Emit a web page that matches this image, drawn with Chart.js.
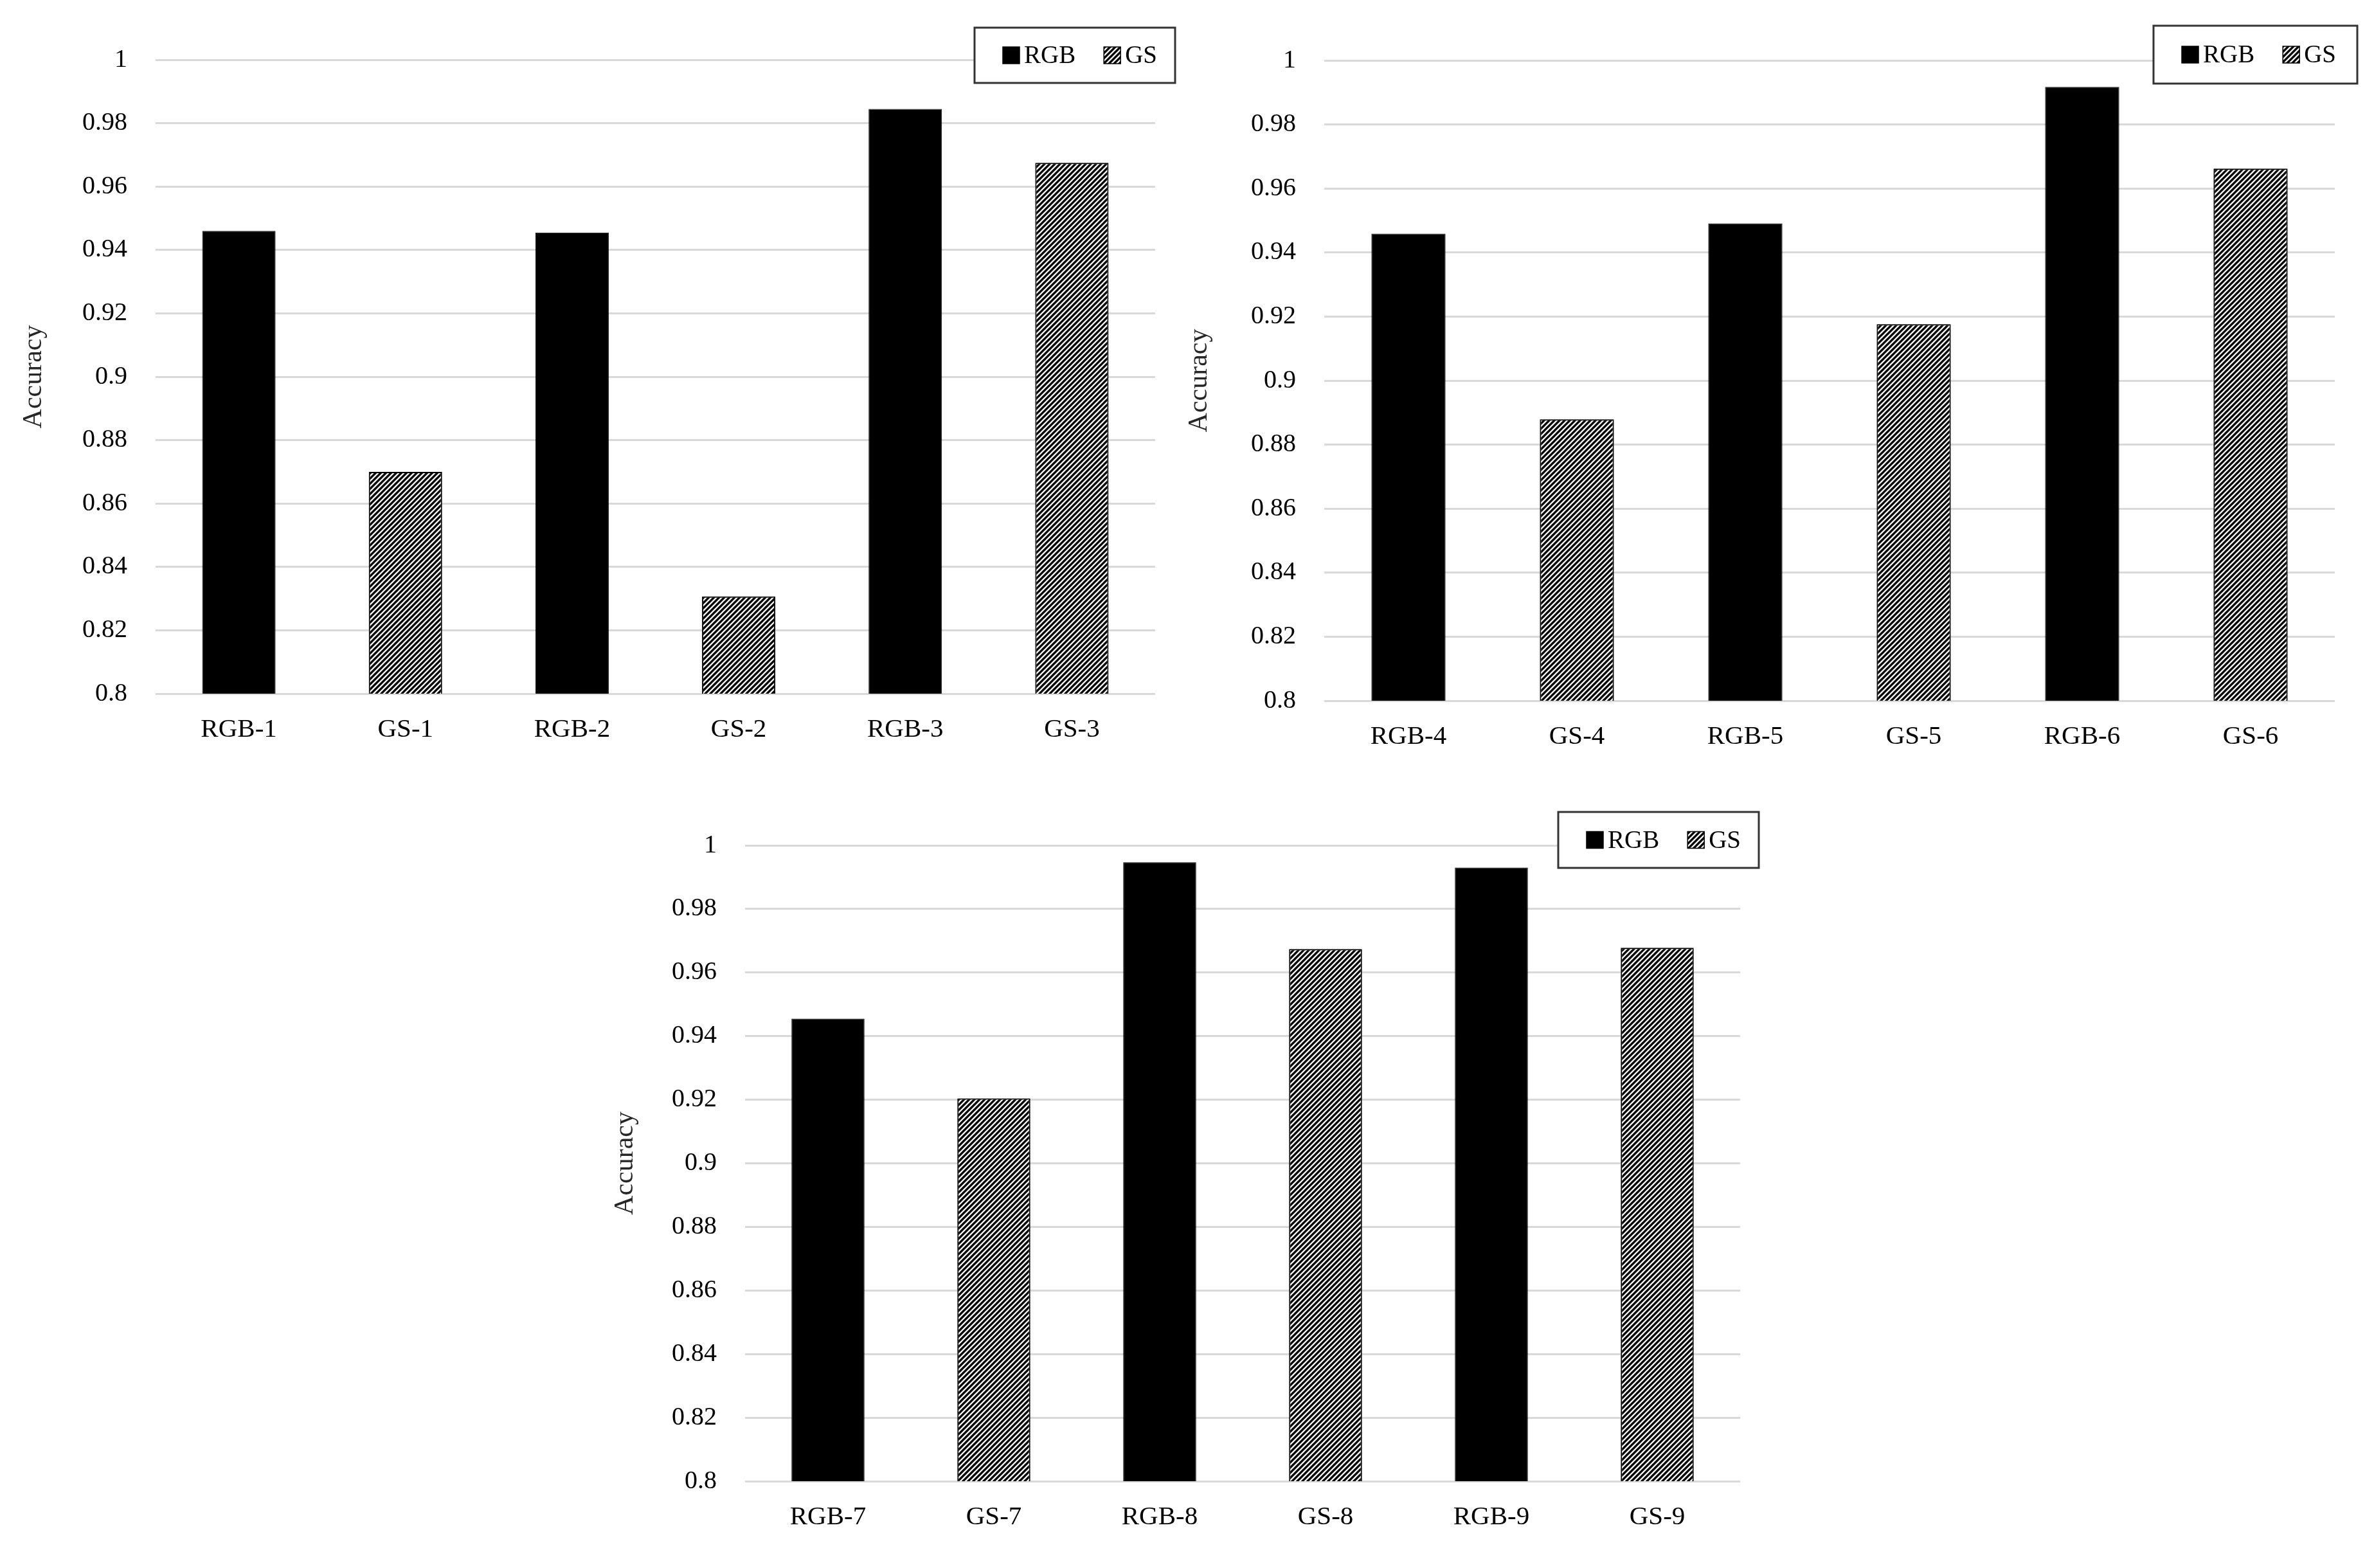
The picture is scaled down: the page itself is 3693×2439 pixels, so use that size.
<!DOCTYPE html>
<html><head><meta charset="utf-8">
<script src="https://cdn.jsdelivr.net/npm/chart.js@4.4.1/dist/chart.umd.min.js"></script>
<style>
html,body{margin:0;padding:0;background:#fff;}
body{width:3693px;height:2439px;position:relative;overflow:hidden;}
canvas{position:absolute;}
</style></head><body>
<canvas id="c1"></canvas><canvas id="c2"></canvas><canvas id="c3"></canvas>
<script>
// ---- data ----
const seriesNames = ['RGB', 'GS'];
const yAxisTitle = 'Accuracy';
const yTickValues = [0.8, 0.82, 0.84, 0.86, 0.88, 0.9, 0.92, 0.94, 0.96, 0.98, 1];

const categories1 = ['RGB-1', 'GS-1', 'RGB-2', 'GS-2', 'RGB-3', 'GS-3'];
const rgbValues1 = [0.946, 0.9455, 0.9845];
const gsValues1 = [0.870, 0.8307, 0.9675];

const categories2 = ['RGB-4', 'GS-4', 'RGB-5', 'GS-5', 'RGB-6', 'GS-6'];
const rgbValues2 = [0.9459, 0.9491, 0.9917];
const gsValues2 = [0.8879, 0.9176, 0.9662];

const categories3 = ['RGB-7', 'GS-7', 'RGB-8', 'GS-8', 'RGB-9', 'GS-9'];
const rgbValues3 = [0.9455, 0.9947, 0.9930];
const gsValues3 = [0.9204, 0.9674, 0.9678];

// ---- layout (pixels) ----
const panels = [
  {id: 'c1', cats: categories1, rgb: rgbValues1, gs: gsValues1,
   canvas: {left: 0, top: 0, w: 1840, h: 1230},
   area: {L: 242, T: 93, R: 1797, B: 1079}, titleX: 53,
   legend: {x: 1516, y: 43, w: 312, h: 86}},
  {id: 'c2', cats: categories2, rgb: rgbValues2, gs: gsValues2,
   canvas: {left: 1840, top: 0, w: 1853, h: 1230},
   area: {L: 220, T: 94, R: 1792, B: 1090}, titleX: 26,
   legend: {x: 1510, y: 40, w: 317, h: 90}},
  {id: 'c3', cats: categories3, rgb: rgbValues3, gs: gsValues3,
   canvas: {left: 900, top: 1230, w: 1900, h: 1209},
   area: {L: 259, T: 85, R: 1807, B: 1074}, titleX: 73,
   legend: {x: 1524, y: 33, w: 312, h: 87}}
];

const SERIF = '"Liberation Serif", "DejaVu Serif", serif';

function makeHatch(ctx) {
  const s = 8;
  const c = document.createElement('canvas');
  c.width = s; c.height = s;
  const g = c.getContext('2d');
  g.fillStyle = '#f4f4f4'; g.fillRect(0, 0, s, s);
  g.strokeStyle = '#000000'; g.lineWidth = 3.3;
  g.beginPath();
  g.moveTo(0, s); g.lineTo(s, 0);
  g.moveTo(-s / 2, s / 2); g.lineTo(s / 2, -s / 2);
  g.moveTo(s / 2, s * 1.5); g.lineTo(s * 1.5, s / 2);
  g.stroke();
  return ctx.createPattern(c, 'repeat');
}

const boxLegend = {
  id: 'boxLegend',
  afterDraw(chart, args, opts) {
    const ctx = chart.ctx;
    const {x, y, w, h} = opts;
    ctx.save();
    ctx.fillStyle = '#ffffff';
    ctx.fillRect(x, y, w, h);
    ctx.lineWidth = 3;
    ctx.strokeStyle = '#333333';
    ctx.strokeRect(x, y, w, h);
    const sw = 26;
    const cy = y + h / 2;
    let sx = x + 44;
    ctx.font = '39px ' + SERIF;
    ctx.textAlign = 'left';
    ctx.textBaseline = 'alphabetic';
    chart.data.datasets.forEach((d) => {
      ctx.fillStyle = d.backgroundColor;
      ctx.fillRect(sx, cy - sw / 2, sw, sw);
      ctx.lineWidth = 1.5;
      ctx.strokeStyle = '#000';
      ctx.strokeRect(sx, cy - sw / 2, sw, sw);
      ctx.fillStyle = '#000';
      ctx.fillText(d.label, sx + sw + 7, cy + 12);
      sx += sw + 7 + ctx.measureText(d.label).width + 44;
    });
    ctx.restore();
  }
};

function spread(values, offset, n) {
  const out = new Array(n).fill(null);
  values.forEach((v, i) => { out[i * 2 + offset] = v; });
  return out;
}

panels.forEach(p => {
  const cv = document.getElementById(p.id);
  cv.width = p.canvas.w; cv.height = p.canvas.h;
  cv.style.left = p.canvas.left + 'px'; cv.style.top = p.canvas.top + 'px';
  cv.style.width = p.canvas.w + 'px'; cv.style.height = p.canvas.h + 'px';
  const ctx = cv.getContext('2d');
  const hatch = makeHatch(ctx);
  const n = p.cats.length;
  const titleSize = 42;
  new Chart(ctx, {
    type: 'bar',
    data: {
      labels: p.cats,
      datasets: [
        {label: seriesNames[0], data: spread(p.rgb, 0, n), backgroundColor: '#000000',
         borderColor: '#000000', borderWidth: 1, grouped: false,
         barPercentage: 0.44, categoryPercentage: 1},
        {label: seriesNames[1], data: spread(p.gs, 1, n), backgroundColor: hatch,
         borderColor: '#000000', borderWidth: 2, grouped: false,
         barPercentage: 0.44, categoryPercentage: 1}
      ]
    },
    options: {
      responsive: false,
      maintainAspectRatio: false,
      animation: false,
      devicePixelRatio: 1,
      layout: {padding: {top: p.area.T, right: p.canvas.w - p.area.R, left: 0, bottom: 0}},
      plugins: {
        legend: {display: false},
        tooltip: {enabled: false},
        boxLegend: p.legend
      },
      scales: {
        x: {
          grid: {display: false, drawTicks: false},
          border: {display: false},
          ticks: {font: {family: SERIF, size: 41}, color: '#000', padding: 32,
                  maxRotation: 0, autoSkip: false},
          afterFit: s => { s.height = p.canvas.h - p.area.B; }
        },
        y: {
          min: 0.8, max: 1,
          grid: {color: '#d9d9d9', lineWidth: 3, drawTicks: false},
          border: {display: false},
          afterBuildTicks: s => { s.ticks = yTickValues.map(v => ({value: v})); },
          ticks: {font: {family: SERIF, size: 40}, color: '#000', padding: 44,
                  callback: v => String(Number(Number(v).toFixed(2)))},
          title: {display: true, text: yAxisTitle, color: '#262626',
                  font: {family: SERIF, size: titleSize},
                  padding: {top: Math.max(0, p.titleX - titleSize * 0.6), bottom: 0}},
          afterFit: s => { s.width = p.area.L; }
        }
      }
    },
    plugins: [boxLegend]
  });
});
</script>
</body></html>
